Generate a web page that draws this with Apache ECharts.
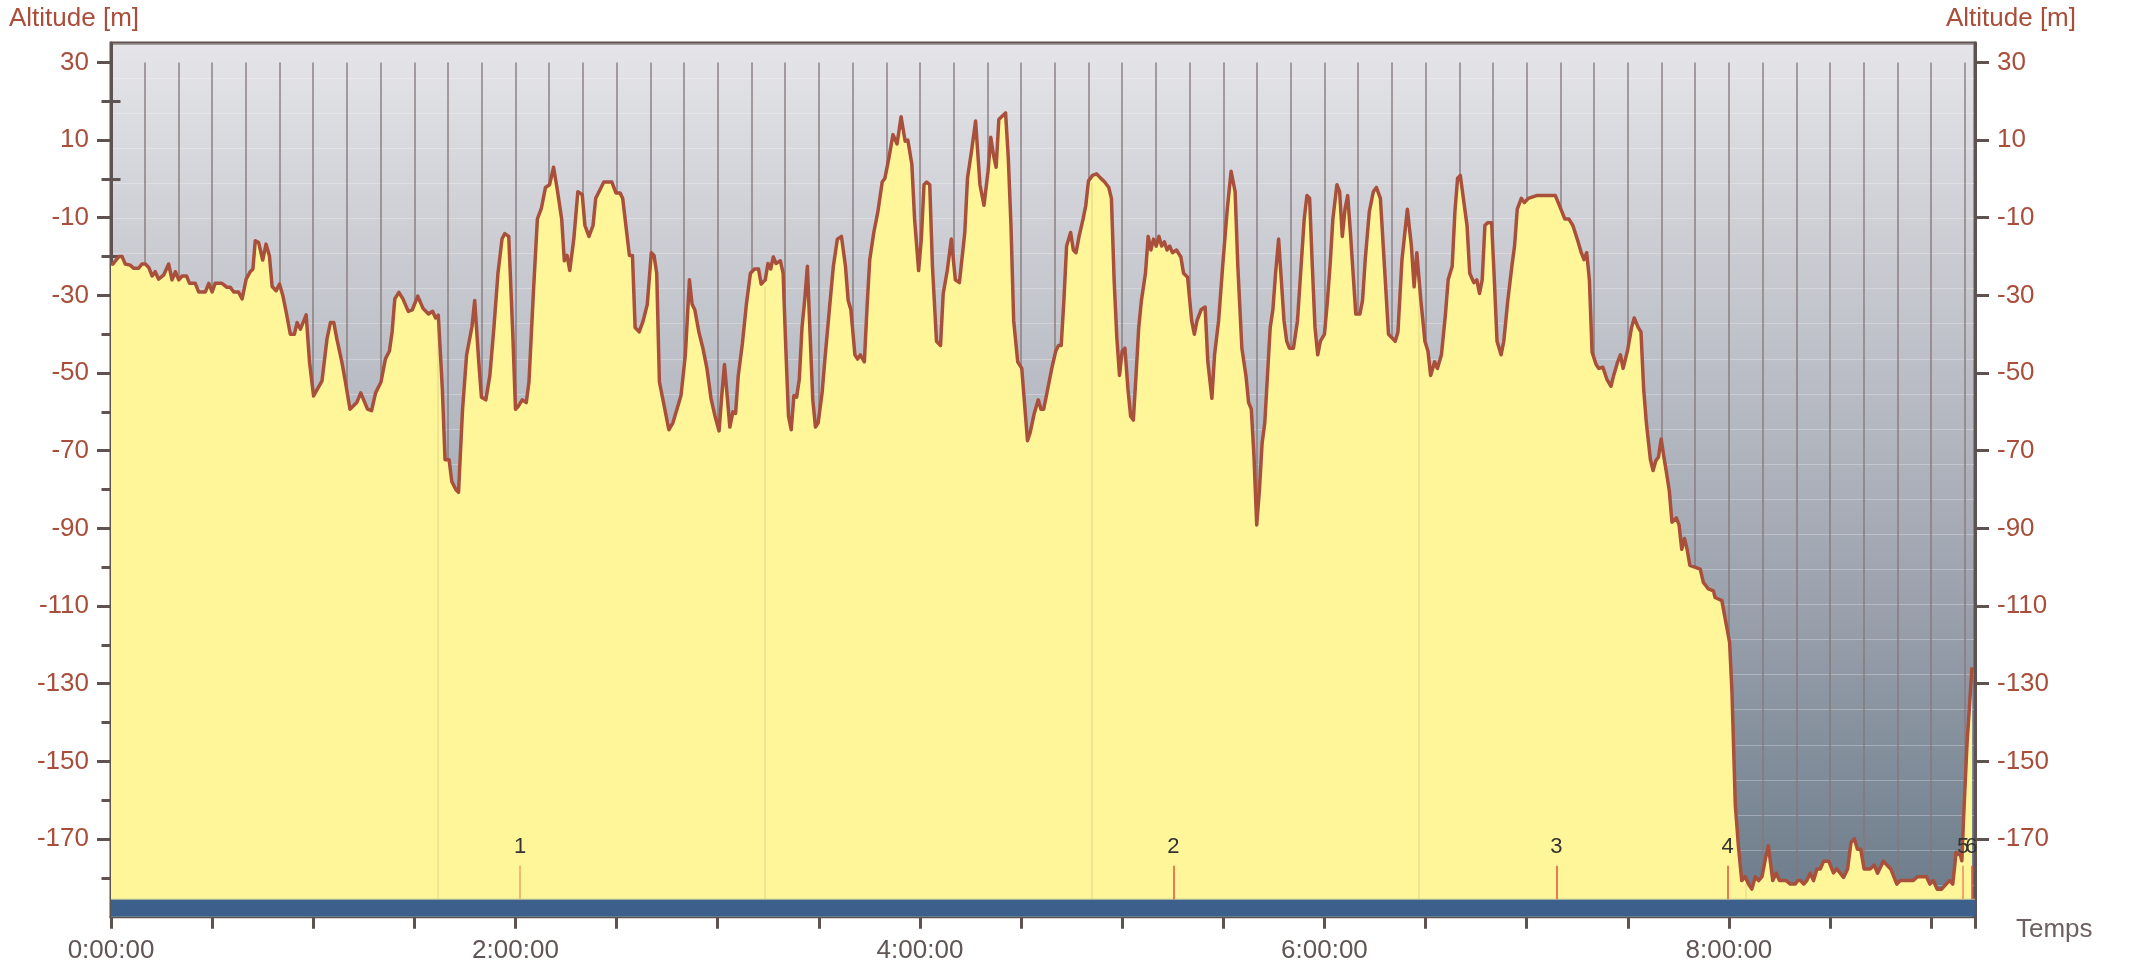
<!DOCTYPE html>
<html><head><meta charset="utf-8">
<script src="https://cdn.jsdelivr.net/npm/echarts@6/dist/echarts.min.js"></script>
<style>html,body{margin:0;padding:0;background:#fff}#c{width:2130px;height:971px}</style>
</head><body><div id="c"></div>
<script>
// elapsed time in minutes
const timeMin = [
0,0.6,2.3,3.3,4.2,5.7,6.7,8.2,9.2,10.2,11.2,12.2,13.1,14.1,15.6,17.1,18.1,19.1,20.1,21.1,22.4,23.3,25,26,28,29,30,30.9,32.9,34.4,35.4,36.4,37.8,38.9,40.1,41.3,42.1,42.8,43.8,45,46,47,47.8,49,50,51,52,53.2,54.4,55.2,56.2,57.9,58.9,60.1,62.6,64.1,65.1,66.1,67,68.5,69.5,
70.9,72.9,74.1,76.1,77.3,78.5,80.1,81.4,82.6,83.4,84.2,85.4,86.6,88.2,89.4,91.0,92.6,94.2,95.4,96.3,97.1,98.3,99.1,100.3,101.1,102.3,103.1,104.3,105.5,107.1,107.9,109.1,109.9,111.2,112.4,113.6,114.8,116.0,116.8,118.0,119.2,120.0,120.8,122.0,123.2,124.0,125.3,126.5,127.7,128.9,130.1,131.3,132.5,133.7,134.5,135.3,136.1,137.3,138.5,139.8,140.6,141.8,143.0,143.8,145.0,146.2,148.6,149.8,151.0,151.8,153.0,153.8,154.7,155.5,156.7,157.9,159.1,160.3,161.1,161.9,162.7,164.3,165.5,166.7,167.9,169.1,170.4,171.6,172.4,173.2,174.4,175.6,176.8,178.0,179.2,180.4,181.2,182.0,182.8,183.6,184.5,185.3,186.1,187.3,188.5,189.7,190.9,192.1,192.9,194.1,194.9,195.7,196.5,197.3,198.6,199.4,200.2,201.0,201.8,202.6,203.4,204.2,205.0,205.8,206.6,207.4,208.2,209.0,209.8,211.0,211.8,213.0,214.3,215.5,216.7,217.9,218.7,219.5,220.7,221.5,222.3,223.5,224.3,225.1,226.3,227.5,228.8,229.6,230.8,232.0,233.2,234.4,235.6,236.4,237.6,238.4,239.6,240.4,241.2,242.0,242.9,243.7,244.9,246.1,246.9,248.1,249.3,250.5,251.7,253.3,254.1,255.3,256.5,257.8,259.0,260.2,261.0,261.8,262.6,263.4,264.2,265.4,266.2,267.0,267.8,269.0,270.2,271.0,271.9,272.7,273.9,275.1,275.9,276.7,277.9,279.1,280.3,281.1,281.9,282.7,283.5,284.7,285.5,286.3,287.2,288.4,289.2,290.0,291.2,292.4,293.6,294.8,296.0,296.8,297.6,298.4,299.2,300.0,300.8,301.7,302.5,303.3,304.1,304.9,305.7,306.9,307.7,308.5,309.3,310.1,310.9,311.7,312.5,313.3,314.1,314.9,316.1,317.4,318.2,319.4,320.6,321.4,322.2,323.4,324.6,325.4,326.6,327.4,328.6,329.8,331.1,332.3,333.5,334.3,335.5,336.7,337.5,338.3,339.1,339.9,340.7,341.5,342.3,343.1,343.9,344.7,345.5,346.4,347.2,348.0,348.8,349.6,350.8,352.0,352.8,354.0,354.8,355.6,356.4,357.2,358.0,358.8,360.0,360.9,361.7,362.5,363.7,364.5,365.3,366.1,366.9,367.7,368.5,369.3,370.5,371.3,372.1,373.3,374.5,375.4,376.6,377.8,379.0,381.0,381.8,383.0,384.6,385.8,386.6,387.4,388.6,389.8,390.7,391.5,392.7,393.5,394.7,395.9,396.7,397.9,398.7,399.5,400.3,401.1,402.3,403.1,404.3,405.2,406.0,406.8,407.6,408.4,409.6,410.4,411.2,412.4,413.2,414.4,415.6,416.4,417.2,418.4,419.3,420.5,422.9,428.5,429.7,431.3,432.5,433.7,435.0,436.2,437.0,437.8,438.6,439.4,440.6,441.4,442.6,443.8,445.0,445.8,447.0,447.8,448.6,449.9,451.1,451.9,453.1,453.9,454.7,455.5,456.7,457.5,458.3,459.1,459.9,460.7,461.5,462.3,463.1,464.4,465.2,466.0,466.8,467.6,468.4,
471.5,472.4,473.9,475.4,475.9,477.9,478.9,480.2,480.9,481.9,482.8,483.8,484.8,485.8,486.8,487.8,488.8,489.8,490.8,491.7,493.0,494.0,495.0,497.0,498.2,499.7,500.4,501.2,502.2,503.1,504.1,505.1,506.1,507.1,508.1,509.6,511.0,512.0,514.0,515.2,516.2,517.2,518.1,519.1,520.1,521.9,523.1,524.1,525.8,528.0,529.8,530.8,534.7,535.9,538.6,539.6,540.6,541.8,543.1,545.4,546.4,547.4,548.7,549.1,549.6,550.6,552.1
];
// altitude in metres
const altitude = [
-22,-21.9,-20,-20,-21.9,-22.2,-23,-23,-21.9,-21.9,-22.8,-25,-23.9,-25.8,-24.8,-21.9,-26,-23.9,-26,-25,-25,-26.9,-26.9,-29.1,-29.1,-26.9,-29.1,-26.9,-26.9,-27.9,-27.9,-29.1,-29.1,-30.9,-25.8,-23.9,-23.2,-15.9,-16.4,-20.9,-16.8,-19.8,-27.7,-28.8,-27.1,-30.1,-34.4,-40,-40,-37,-38.7,-35,-47.2,-55.9,-52,-41.1,-37,-37,-41.2,-47.2,-52,
-59.3,-57.6,-55.1,-59.3,-59.7,-55.1,-52.3,-46.4,-44.3,-39.4,-30.9,-29.2,-30.9,-34.1,-33.7,-30.2,-33.4,-34.8,-34.1,-35.8,-35.1,-54.1,-72.3,-72.3,-77.9,-80,-80.7,-59.3,-45.3,-38,-31.3,-47.1,-56.2,-56.9,-50.6,-38.3,-24.3,-15.5,-14.1,-14.8,-40,-59.3,-58.6,-56.9,-57.6,-52.3,-29.5,-10.3,-7.5,-2.2,-1.5,3.0,-3.3,-10.3,-21.1,-19.7,-23.6,-15.5,-3.3,-4.0,-12.0,-14.8,-12.0,-5.0,-2.9,-0.8,-0.8,-3.6,-3.6,-5.0,-13.8,-19.7,-19.7,-38.3,-39.4,-36.5,-32.3,-19.0,-19.7,-24.3,-52.3,-59.3,-64.6,-62.8,-59.3,-55.8,-45.3,-26.0,-32.3,-33.7,-39.4,-43.6,-48.8,-56.5,-61.1,-64.9,-55.8,-47.8,-55.8,-63.9,-60.0,-60.4,-50.6,-42.5,-32.3,-24.3,-23.2,-23.2,-27.1,-26.0,-21.8,-23.2,-20.1,-21.8,-21.1,-24.3,-43.6,-61.1,-64.6,-55.8,-56.2,-51.6,-38.3,-31.3,-22.5,-40.0,-56.9,-63.9,-62.8,-54.8,-46.4,-34.8,-22.5,-15.5,-14.8,-22.5,-31.3,-33.7,-45.3,-46.4,-45.3,-47.1,-33.0,-20.8,-13.8,-8.5,-0.8,0.2,5.5,11.4,9.0,16.0,9.7,10.0,3.7,-10.3,-23.6,-15.5,-1.5,-0.8,-1.5,-22.5,-41.8,-42.9,-29.5,-23.6,-15.5,-26.0,-26.7,-13.8,0.2,7.2,14.9,-1.5,-6.8,2.0,10.7,6.2,3.0,15.3,16.0,17.0,5.5,-12.0,-36.5,-47.1,-48.8,-57.6,-67.4,-65.3,-60.4,-56.9,-59.3,-59.3,-54.1,-48.8,-44.3,-42.9,-42.9,-31.3,-17.3,-13.8,-18.3,-19.0,-14.8,-10.3,-6.8,-0.5,0.9,1.3,0.2,-0.8,-2.2,-5.0,-26.0,-40.8,-50.6,-44.3,-43.6,-54.1,-61.1,-62.1,-50.6,-38.3,-31.3,-24.3,-14.8,-18.3,-15.5,-17.3,-14.8,-17.3,-16.2,-18.3,-17.3,-19.0,-18.3,-20.1,-24.3,-25.3,-36.5,-40.0,-36.5,-33.7,-33.0,-47.1,-56.5,-45.3,-36.5,-22.5,-8.5,2.0,-3.3,-22.5,-43.6,-50.6,-57.6,-59.3,-71.6,-89.1,-80.3,-68.1,-62.8,-50.6,-38.3,-33.7,-24.3,-15.5,-26.0,-36.5,-41.8,-43.6,-43.6,-36.5,-26.0,-10.3,-4.3,-5.0,-22.5,-38.3,-45.3,-41.8,-40.0,-31.3,-21.8,-10.3,-1.5,-3.3,-14.8,-7.8,-4.3,-13.8,-24.3,-34.8,-34.8,-31.3,-20.8,-8.5,-3.3,-2.2,-5.0,-22.5,-40.0,-41.8,-39.4,-20.8,-7.8,-17.3,-27.8,-19.0,-31.3,-41.8,-44.3,-50.6,-47.1,-48.8,-45.3,-34.8,-26.0,-22.5,-8.5,0.2,0.9,-4.3,-12.0,-24.3,-26.7,-26.0,-29.5,-26.0,-12.0,-11.3,-11.3,-26.0,-41.8,-45.3,-41.8,-31.3,-22.5,-17.3,-7.8,-5.0,-6.1,-5.0,-4.3,-4.3,-6.8,-10.3,-10.3,-12.0,-15.5,-19.0,-20.8,-19.0,-26.0,-44.6,-47.8,-48.8,-48.5,-51.6,-53.4,-50.6,-47.1,-45.3,-48.8,-44.3,-38.3,-35.8,-38.3,-39.4,-54.1,-62.8,-72.3,-75.1,-72.6,-71.6,-67.0,-71.6,-75.8,-80.3,-88.4,-87.3,-89.1,-95.4,-92.6,-95.4,-99.5,
-100.5,-103.9,-105.6,-106.1,-107.8,-108.6,-113.3,-119.4,-132.2,-161.4,-171.7,-180.7,-179.7,-181.6,-182.9,-179.7,-180.7,-179.7,-175.2,-171.7,-180.7,-178.8,-180.7,-180.7,-181.6,-181.6,-180.7,-180.7,-181.6,-180.7,-178.8,-180.7,-177.7,-177.7,-175.7,-175.7,-178.7,-177.7,-179.9,-177.7,-170.9,-169.9,-172.6,-172.6,-177.7,-177.7,-176.7,-178.8,-175.7,-177.7,-181.6,-180.7,-180.7,-179.7,-179.7,-181.6,-180.7,-182.9,-182.9,-180.7,-181.6,-173.4,-174.3,-175.6,-164.9,-146,-125.8
];
const markerTimes = [121.4, 315.2, 428.8, 479.6, 549.5, 551.9];
const markerLabels = ['1', '2', '3', '4', '5', '6'];
const markerColors = ['#f2a070', '#e2503c', '#e2503c', '#e2503c', '#ee8a60', '#e2503c'];
const lapTimes = [96.9, 193.9, 290.9, 388.0, 484.9];
const yMajorTicks = [30, 10, -10, -30, -50, -70, -90, -110, -130, -150, -170];
const yMinorTicks = [20, 0, -20, -40, -60, -80, -100, -120, -140, -160, -180];
const xLabelTicks = [0, 120, 240, 360, 480];
const xMax = 553;

const FONT = '"Liberation Sans", Arial, Helvetica, sans-serif';
const AX = '#5e5351';
const RED = '#a84e3a';
const GREY_TXT = '#5f5554';
const floorV = -185.5;

function fmtTime(m) {
  const h = Math.floor(m / 60), mm = Math.round(m % 60);
  return h + ':' + String(mm).padStart(2, '0') + ':00';
}
// altitude of the profile at time t (linear between recorded points)
function altAt(t) {
  for (let i = 1; i < timeMin.length; i++) {
    if (timeMin[i] >= t) {
      const f = (t - timeMin[i - 1]) / (timeMin[i] - timeMin[i - 1]);
      return altitude[i - 1] + f * (altitude[i] - altitude[i - 1]);
    }
  }
  return altitude[altitude.length - 1];
}
const gridTimes = [];
for (let t = 10; t <= 550; t += 10) gridTimes.push(t);

const profile = timeMin.map((t, i) => [t, altitude[i]]);

const yCommon = { type: 'value', min: -190, max: 35, splitLine: { show: false } };
const chart = echarts.init(document.getElementById('c'));
chart.setOption({
  animation: false,
  grid: {
    left: 111, right: 155, top: 43, bottom: 54.3, show: true,
    borderWidth: 3, borderColor: AX,
    backgroundColor: new echarts.graphic.LinearGradient(0, 0, 0, 1, [
      { offset: 0, color: '#e5e5e9' },
      { offset: 0.3, color: '#c4c6cd' },
      { offset: 0.6, color: '#a0a6b1' },
      { offset: 1, color: '#6a7a89' }
    ])
  },
  xAxis: [
    {
      type: 'value', min: 0, max: xMax, interval: 30,
      axisLine: { show: true, onZero: false, lineStyle: { color: AX, width: 3 } },
      axisTick: { length: 12, lineStyle: { color: AX, width: 3 } },
      axisLabel: { customValues: xLabelTicks, formatter: fmtTime, margin: 21, fontSize: 26, color: GREY_TXT, fontFamily: FONT },
      splitLine: { show: false }
    },
    {
      type: 'value', min: 0, max: xMax, position: 'bottom',
      axisLine: { show: false },
      axisTick: { customValues: [0, xMax], length: 18, lineStyle: { color: AX, width: 3 } },
      axisLabel: { show: false }, splitLine: { show: false }
    }
  ],
  yAxis: [
    Object.assign({}, yCommon, {
      position: 'left',
      axisLine: { show: true, onZero: false, lineStyle: { color: AX, width: 3 } },
      axisTick: { customValues: yMajorTicks, length: 14, lineStyle: { color: AX, width: 3 } },
      axisLabel: { customValues: yMajorTicks, margin: 22, fontSize: 26, color: RED, fontFamily: FONT }
    }),
    Object.assign({}, yCommon, {
      position: 'left', axisLine: { show: false },
      axisTick: { customValues: yMinorTicks, length: 9.5, lineStyle: { color: AX, width: 3 } },
      axisLabel: { show: false }
    }),
    Object.assign({}, yCommon, {
      position: 'right',
      axisLine: { show: true, onZero: false, lineStyle: { color: AX, width: 3 } },
      axisTick: { customValues: yMajorTicks, length: 14, lineStyle: { color: AX, width: 3 } },
      axisLabel: { customValues: yMajorTicks, margin: 22, fontSize: 26, color: RED, fontFamily: FONT }
    }),
    Object.assign({}, yCommon, {
      position: 'right', axisLine: { show: false },
      axisTick: { customValues: yMinorTicks, length: 9.5, lineStyle: { color: AX, width: 3 } },
      axisLabel: { show: false }
    }),
    {
      type: 'value', min: 0, max: 24.9, interval: 1, inverse: true, position: 'left',
      axisLine: { show: false }, axisTick: { show: false }, axisLabel: { show: false },
      splitLine: { show: true, lineStyle: { color: 'rgba(255,255,255,0.28)', width: 1 } }
    }
  ],
  series: [
    {
      name: 'grid10', type: 'line', data: [[0, 30]], symbol: 'none', lineStyle: { width: 0 }, silent: true, z: 1,
      markLine: {
        z: 1, silent: true, symbol: ['none', 'none'], label: { show: false },
        lineStyle: { color: '#86777a', width: 1.5, type: 'solid', opacity: 0.9 },
        emphasis: { disabled: true },
        data: gridTimes.map(t => [{ coord: [t, 30] }, { coord: [t, -190] }])
      }
    },
    {
      name: 'Altitude', type: 'line', data: profile, symbol: 'none', showSymbol: false, z: 3,
      lineStyle: { color: '#a8503c', width: 3.5, join: 'round' },
      areaStyle: { color: '#fff69a', opacity: 1, origin: 'start' }
    },
    {
      name: 'laps', type: 'line', data: [[0, 30]], symbol: 'none', lineStyle: { width: 0 }, silent: true, z: 4,
      markLine: {
        z: 4, silent: true, symbol: ['none', 'none'], label: { show: false },
        lineStyle: { color: 'rgba(160,150,100,0.22)', width: 1.5, type: 'solid' },
        emphasis: { disabled: true },
        data: lapTimes.map(t => [{ coord: [t, floorV] }, { coord: [t, altAt(t) - 1.5] }])
      }
    },
    {
      name: 'strip', type: 'line', data: [[0, floorV], [xMax, floorV]], symbol: 'none', z: 5, silent: true,
      lineStyle: { color: '#b7c59a', width: 1 },
      areaStyle: { color: '#3d5f8b', opacity: 1, origin: 'start' },
      markLine: {
        z: 6, silent: true, symbol: ['none', 'none'],
        emphasis: { disabled: true },
        label: { show: true, position: 'end', distance: 8, formatter: '{b}', color: '#333', fontSize: 22, fontFamily: FONT },
        data: markerTimes.map((t, i) => [
          { name: markerLabels[i], coord: [t, floorV], lineStyle: { color: markerColors[i], width: 1.5, type: 'solid' } },
          { coord: [t, -176.9] }
        ])
      }
    }
  ],
  graphic: [
    { type: 'text', left: 9, top: 6, style: { text: 'Altitude [m]', font: '26px ' + FONT, fill: RED } },
    { type: 'text', right: 54, top: 6, style: { text: 'Altitude [m]', font: '26px ' + FONT, fill: RED } },
    { type: 'text', left: 2016, top: 917, style: { text: 'Temps', font: '26px ' + FONT, fill: '#6a6160' } }
  ]
});
</script></body></html>
